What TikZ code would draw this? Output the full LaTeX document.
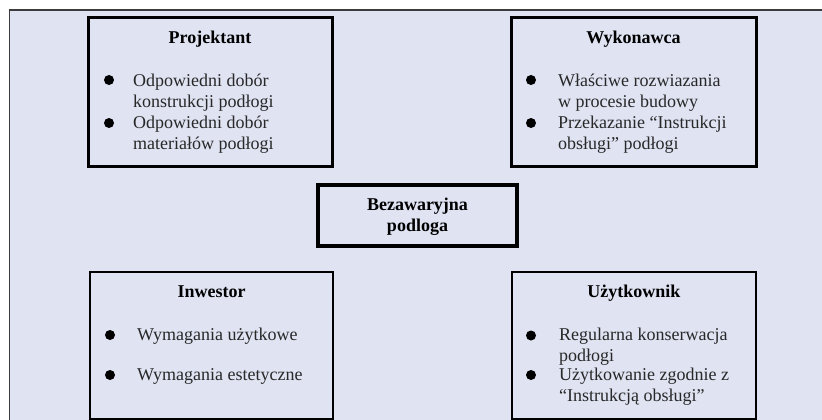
\documentclass[tikz,border=0pt]{standalone}
\usepackage{fontspec}
\setmainfont{Liberation Serif}
\definecolor{panel}{RGB}{223,227,242}
\definecolor{bodytext}{RGB}{40,40,40}
\definecolor{framegray}{RGB}{60,60,60}
\begin{document}
\begin{tikzpicture}[x=1pt,y=-1pt,
  roleboxthick/.style={draw=black, line width=3pt, fill=panel},
  roleboxthin/.style={draw=black, line width=1.8pt, fill=panel},
  centerbox/.style={draw=black, line width=4.5pt, fill=panel},
  title/.style={font=\fontsize{18}{21.5}\selectfont\bfseries, text=black, inner sep=0pt, anchor=base},
  item/.style={font=\fontsize{18}{21.5}\selectfont, text=bodytext, inner sep=0pt, anchor=base west},
  dot/.style={circle, fill=black, inner sep=0pt, minimum size=10pt}]
\useasboundingbox (0,0) rectangle (822,420);
% page panel with its frame (open to the right and bottom)
\fill[panel] (9.5,10) rectangle (830,430);
\draw[framegray, line width=1.2pt] (9.5,430) -- (9.5,10) -- (830,10);

% Projektant
\draw[roleboxthick] (88,18) rectangle (332,166);
\node[title] (tp) at (210,43.5) {Projektant};
\node[dot] (bp1) at (109,80) {};
\node[item] (p1) at (133,86) {Odpowiedni dobór};
\node[item] (p2) at (133,107) {konstrukcji podłogi};
\node[dot] (bp2) at (109,123) {};
\node[item] (p3) at (133,128.5) {Odpowiedni dobór};
\node[item] (p4) at (133,149.5) {materiałów podłogi};

% Wykonawca
\draw[roleboxthick] (511,18) rectangle (756,166);
\node[title] (tw) at (633.5,43.5) {Wykonawca};
\node[dot] (bw1) at (531,80) {};
\node[item] (w1) at (558,86) {Właściwe rozwiazania};
\node[item] (w2) at (558,107) {w procesie budowy};
\node[dot] (bw2) at (531,123) {};
\node[item] (w3) at (558,128.5) {Przekazanie “Instrukcji};
\node[item] (w4) at (558,149.5) {obsługi” podłogi};

% centre
\draw[centerbox] (318,185) rectangle (517,246);
\node[title] (c1) at (417.5,210) {Bezawaryjna};
\node[title] (c2) at (417.5,231.5) {podloga};

% Inwestor
\draw[roleboxthin] (90,272) rectangle (333,419);
\node[title] (ti) at (211.5,297) {Inwestor};
\node[dot] (bi1) at (110,335) {};
\node[item] (i1) at (137,340.5) {Wymagania użytkowe};
\node[dot] (bi2) at (110,375) {};
\node[item] (i2) at (137,380.5) {Wymagania estetyczne};

% Użytkownik
\draw[roleboxthin] (512,272) rectangle (756,419);
\node[title] (tu) at (634,297) {Użytkownik};
\node[dot] (bu1) at (531,335.5) {};
\node[item] (u1) at (559,340.5) {Regularna konserwacja};
\node[item] (u2) at (559,361) {podłogi};
\node[dot] (bu2) at (531,375) {};
\node[item] (u3) at (559,380.5) {Użytkowanie zgodnie z};
\node[item] (u4) at (559,401.5) {“Instrukcją obsługi”};
\end{tikzpicture}
\end{document}
